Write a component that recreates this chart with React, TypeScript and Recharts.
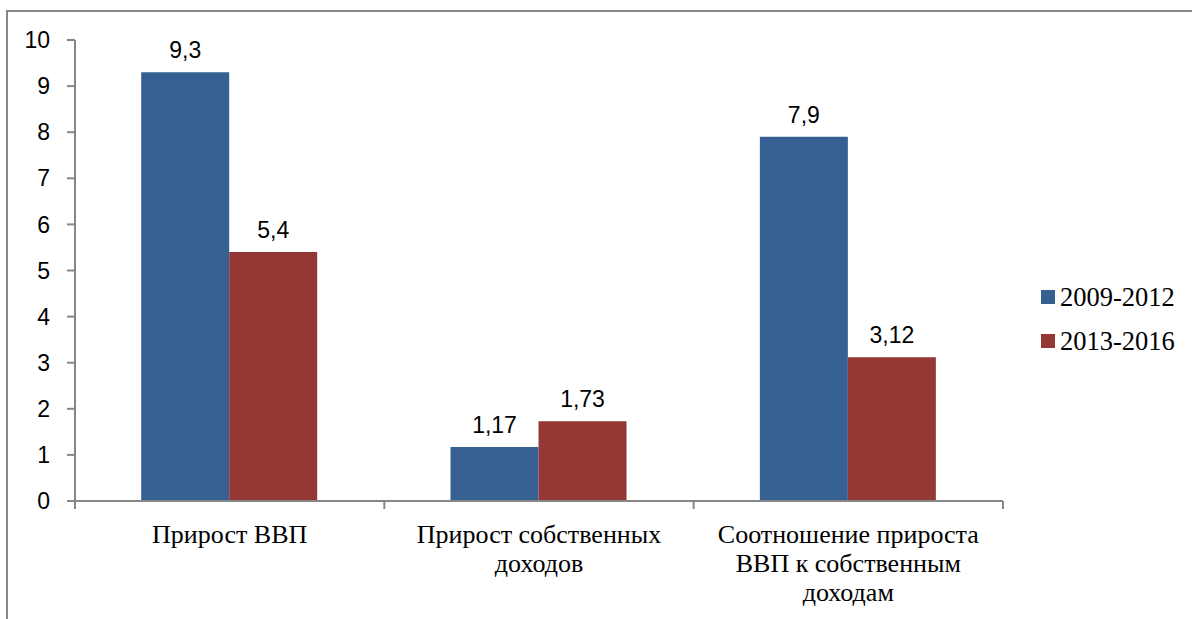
import { BarChart, Bar, XAxis, YAxis, LabelList, Legend } from 'recharts'

const CATEGORIES = [
  ['Прирост ВВП'],
  ['Прирост собственных', 'доходов'],
  ['Соотношение прироста', 'ВВП к собственным', 'доходам'],
]
const SERIES_A = [9.3, 1.17, 7.9]
const SERIES_B = [5.4, 1.73, 3.12]
const SERIES_NAMES = ['2009-2012', '2013-2016']
const Y_TICKS = [0, 1, 2, 3, 4, 5, 6, 7, 8, 9, 10]

const BLUE = '#376092'
const RED = '#953735'
const AXIS = '#878787'
const SANS = "'Liberation Sans', sans-serif"
const SERIF = "'Liberation Serif', serif"

const data = CATEGORIES.map((lines, i) => ({
  name: lines.join('\n'),
  a: SERIES_A[i],
  b: SERIES_B[i],
}))

const fmt = (v: unknown) => String(v).replace('.', ',')

// category label plus tick marks on the band edges
function CategoryTick({ x, y, payload, index, visibleTicksCount }: any) {
  const lines = String(payload.value).split('\n')
  const half = payload.offset ?? 0
  const last = index === visibleTicksCount - 1
  return (
    <g>
      <line x1={x - half} x2={x - half} y1={y} y2={y + 8} stroke={AXIS} strokeWidth={2} />
      {last && <line x1={x + half} x2={x + half} y1={y} y2={y + 8} stroke={AXIS} strokeWidth={2} />}
      <text x={x} y={y} textAnchor="middle" fontFamily={SERIF} fontSize={26} fill="#000">
        {lines.map((l, i) => (
          <tspan key={i} x={x} dy={i === 0 ? 42 : 29}>
            {l}
          </tspan>
        ))}
      </text>
    </g>
  )
}

function LegendBox() {
  const colors = [BLUE, RED]
  return (
    <div style={{ fontFamily: SERIF, fontSize: 26.5 }}>
      {SERIES_NAMES.map((n, i) => (
        <div key={n} style={{ display: 'flex', alignItems: 'center', height: 44 }}>
          <span
            style={{ width: 14, height: 14, background: colors[i], marginRight: 5, display: 'inline-block' }}
          />
          {n}
        </div>
      ))}
    </div>
  )
}

export default function App() {
  return (
    <div
      style={{
        position: 'fixed',
        left: 0,
        top: 0,
        width: 1192,
        height: 619,
        background: '#fff',
        overflow: 'hidden',
      }}
    >
      <div
        style={{
          position: 'absolute',
          left: 6,
          top: 10,
          width: 1300,
          height: 800,
          borderTop: `2px solid ${AXIS}`,
          borderLeft: `2px solid ${AXIS}`,
        }}
      />
      <div style={{ position: 'absolute', left: 0, top: 0 }}>
        <BarChart
          width={1192}
          height={619}
          data={data}
          margin={{ top: 40, right: 39, bottom: 0, left: 0 }}
          barCategoryGap="21.4%"
          barGap={0}
        >
          <XAxis
            dataKey="name"
            interval={0}
            tickLine={false}
            tickSize={0}
            tickMargin={0}
            axisLine={{ stroke: AXIS, strokeWidth: 2 }}
            tick={<CategoryTick />}
            height={118}
          />
          <YAxis
            width={75}
            domain={[0, 10]}
            ticks={Y_TICKS}
            interval={0}
            axisLine={{ stroke: AXIS, strokeWidth: 2 }}
            tickLine={{ stroke: AXIS, strokeWidth: 2 }}
            tickSize={8}
            tickMargin={17}
            tick={{ fill: '#000', fontSize: 23, fontFamily: SANS }}
          />
          <Legend
            layout="vertical"
            verticalAlign="top"
            align="right"
            wrapperStyle={{ left: 1041, top: 275, width: 150 }}
            content={<LegendBox />}
          />
          <Bar dataKey="a" name={SERIES_NAMES[0]} fill={BLUE} isAnimationActive={false}>
            <LabelList
              dataKey="a"
              position="top"
              offset={14}
              formatter={fmt}
              style={{ fill: '#000', fontSize: 23, fontFamily: SANS }}
            />
          </Bar>
          <Bar dataKey="b" name={SERIES_NAMES[1]} fill={RED} isAnimationActive={false}>
            <LabelList
              dataKey="b"
              position="top"
              offset={14}
              formatter={fmt}
              style={{ fill: '#000', fontSize: 23, fontFamily: SANS }}
            />
          </Bar>
        </BarChart>
      </div>
    </div>
  )
}
